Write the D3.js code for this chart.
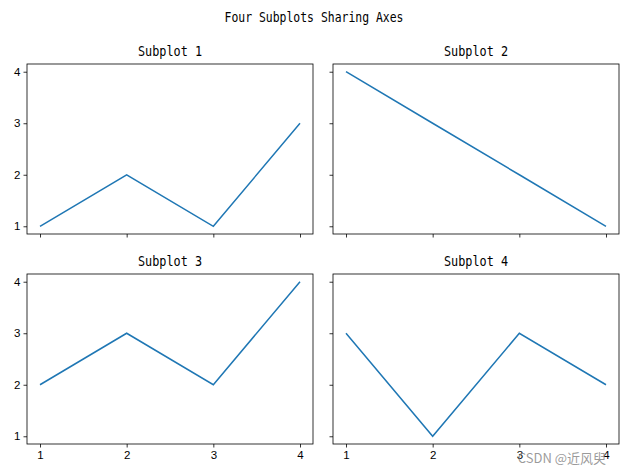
<!DOCTYPE html>
<html>
<head>
<meta charset="utf-8">
<script src="https://cdn.jsdelivr.net/npm/d3@7"></script>
<style>
  body { margin: 0; background: #fff; }
  svg { display: block; }
</style>
</head>
<body>
<svg id="chart" width="629" height="475"></svg>
<script>
// chart data
var xValues = [1, 2, 3, 4];
var series1 = [1, 2, 1, 3];
var series2 = [4, 3, 2, 1];
var series3 = [2, 3, 2, 4];
var series4 = [3, 1, 3, 2];
var titles = ["Subplot 1", "Subplot 2", "Subplot 3", "Subplot 4"];
var tickValues = [1, 2, 3, 4];

var svg = d3.select("#chart");
var titleFont = "'DejaVu Sans Mono', monospace";
var tickFont = "'Liberation Sans', 'DejaVu Sans', sans-serif";

// panel boxes, row by row
var cols = [27, 333], rows = [64, 274];
var pw = 286, ph = 170;

// shared scales (5% margin like matplotlib)
var x = d3.scaleLinear().domain([0.85, 4.15]).range([0, pw]);
var y = d3.scaleLinear().domain([0.85, 4.15]).range([ph, 0]);

svg.append("text")
    .attr("x", 314).attr("y", 22)
    .attr("text-anchor", "middle")
    .attr("textLength", 179)
    .attr("lengthAdjust", "spacingAndGlyphs")
    .style("font-family", titleFont)
    .style("font-size", "13.5px")
    .text("Four Subplots Sharing Axes");

var allSeries = [series1, series2, series3, series4];

allSeries.forEach(function(vals, i) {
    var r = Math.floor(i / 2), c = i % 2;
    var g = svg.append("g")
        .attr("transform", "translate(" + cols[c] + "," + rows[r] + ")");

    var xAxis = d3.axisBottom(x).tickValues(tickValues).tickSize(3.5).tickPadding(3).tickFormat(d3.format("d"));
    var yAxis = d3.axisLeft(y).tickValues(tickValues).tickSize(3.5).tickPadding(3).tickFormat(d3.format("d"));
    if (r === 0) xAxis.tickFormat("");
    if (c === 1) yAxis.tickFormat("");

    var gx = g.append("g").attr("transform", "translate(0," + ph + ")").call(xAxis);
    var gy = g.append("g").call(yAxis);
    [gx, gy].forEach(function(a) {
        a.select(".domain").remove();
        a.selectAll("line").attr("stroke", "#000").attr("stroke-width", 0.8);
        a.selectAll("text")
            .style("font-family", tickFont)
            .style("font-size", "11.5px")
            .attr("fill", "#000");
    });

    var line = d3.line()
        .x(function(d, k) { return x(xValues[k]); })
        .y(function(d) { return y(d); });

    g.append("path")
        .datum(vals)
        .attr("d", line)
        .attr("fill", "none")
        .attr("stroke", "#1f77b4")
        .attr("stroke-width", 1.5);

    g.append("rect")
        .attr("width", pw).attr("height", ph)
        .attr("fill", "none")
        .attr("stroke", "#000")
        .attr("stroke-width", 0.8);

    g.append("text")
        .attr("x", pw / 2).attr("y", -8)
        .attr("text-anchor", "middle")
        .attr("textLength", 64)
        .attr("lengthAdjust", "spacingAndGlyphs")
        .style("font-family", titleFont)
        .style("font-size", "13.5px")
        .text(titles[i]);
});

// watermark
svg.append("text")
    .attr("x", 606).attr("y", 463)
    .attr("text-anchor", "end")
    .style("font-family", "'Noto Sans CJK SC', sans-serif")
    .style("font-size", "13px")
    .attr("fill", "#888")
    .attr("fill-opacity", 0.85)
    .text("CSDN @近风臾");
</script>
</body>
</html>
